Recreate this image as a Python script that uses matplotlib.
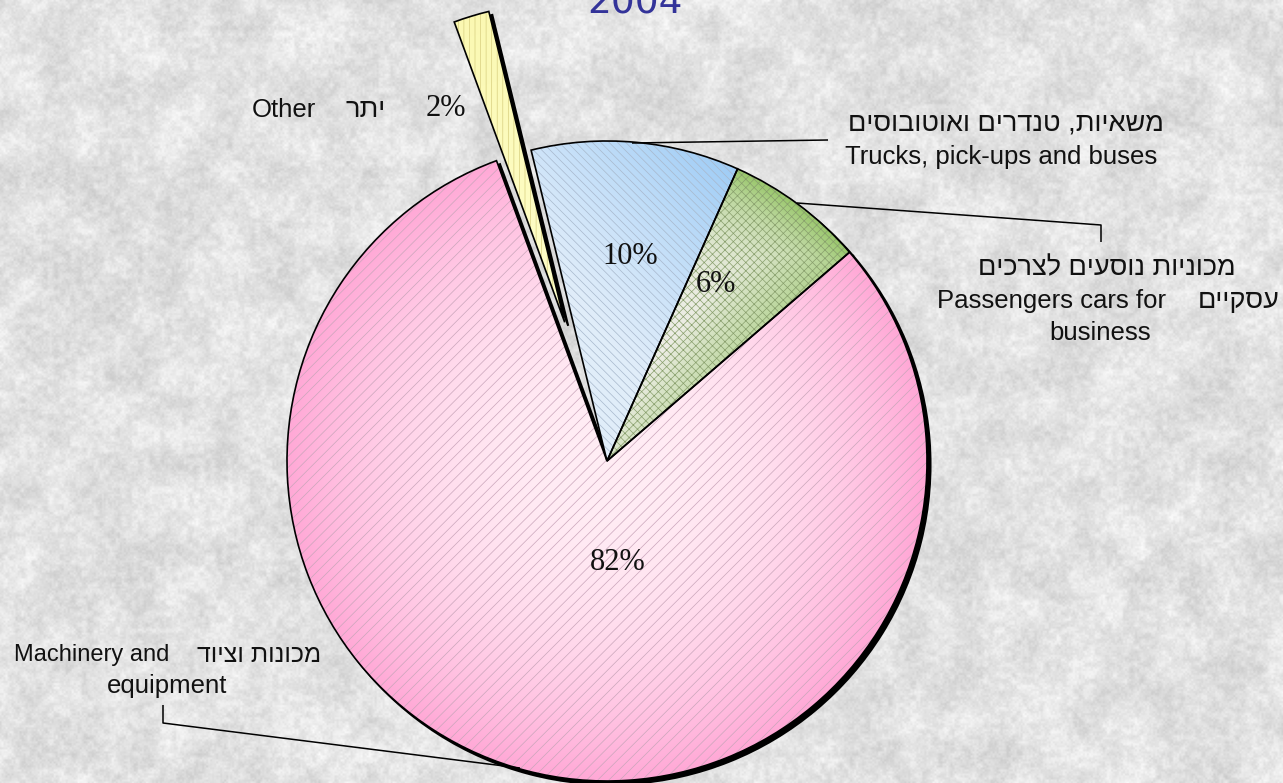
import numpy as np
import matplotlib
matplotlib.use("Agg")
import matplotlib.pyplot as plt
from matplotlib.patches import Wedge

W, H = 1283, 783

# ---------------- data ----------------
title = "2004"
categories_en = ["Other", "Trucks, pick-ups and buses",
                 "Passengers cars for business", "Machinery and equipment"]
categories_he = ["יתר", "משאיות, טנדרים ואוטובוסים",
                 "מכוניות נוסעים לצרכים עסקיים", "מכונות וציוד"]
shares = [1.8, 10.5, 7.0, 80.7]          # slice sizes as drawn
pct_labels = ["2%", "10%", "6%", "82%"]  # labels as printed


def rtl(s):
    """visual order for right-to-left Hebrew text (matplotlib draws LTR)"""
    return s[::-1]


def Y(py):
    return H - py


plt.rcParams["hatch.linewidth"] = 0.5
LBL = dict(family=["Liberation Sans", "DejaVu Sans"], fontsize=18.5, color="#111111")
HEB = dict(family=["Liberation Sans", "DejaVu Sans"], fontsize=19.5, color="#111111")
PCT = dict(family=["Liberation Serif", "DejaVu Serif"], fontsize=22, color="#111111")

fig = plt.figure(figsize=(W / 100, H / 100), dpi=100)
ax = fig.add_axes([0, 0, 1, 1])

# ---------------- marble background (deterministic texture) ----------------
def hashnoise(nr, nc, k):
    i, j = np.mgrid[0:nr, 0:nc].astype(float)
    v = np.sin(i * 12.9898 + j * 78.233 + k * 37.719) * 43758.5453
    return v - np.floor(v)


def upsample(a, nr, nc):
    r = np.linspace(0, a.shape[0] - 1, nr)
    c = np.linspace(0, a.shape[1] - 1, nc)
    r0 = np.floor(r).astype(int); c0 = np.floor(c).astype(int)
    r1 = np.minimum(r0 + 1, a.shape[0] - 1); c1 = np.minimum(c0 + 1, a.shape[1] - 1)
    fr = (r - r0)[:, None]; fc = (c - c0)[None, :]
    fr = fr * fr * (3 - 2 * fr); fc = fc * fc * (3 - 2 * fc)
    top = a[r0][:, c0] * (1 - fc) + a[r0][:, c1] * fc
    bot = a[r1][:, c0] * (1 - fc) + a[r1][:, c1] * fc
    return top * (1 - fr) + bot * fr


bg = (0.40 * upsample(hashnoise(28, 46, 1), H, W)
      + 0.35 * upsample(hashnoise(140, 230, 2), H, W)
      + 0.25 * upsample(hashnoise(390, 640, 3), H, W))
bg = 0.78 + 0.21 * bg
ax.imshow(bg, extent=(0, W, 0, H), cmap="gray", vmin=0, vmax=1,
          interpolation="nearest", aspect="auto", zorder=0)

# ---------------- pie ----------------
cx, cy, R = 607, Y(461), 320
explode = [145, 0, 0, 0]
wedges, _ = ax.pie(shares, radius=R, center=(cx, cy), startangle=110.2,
                   counterclock=False, explode=explode, normalize=True,
                   wedgeprops=dict(facecolor="none", edgecolor="black",
                                   linewidth=1.2, zorder=5))

light = [np.array(c) for c in [(1.0, 1.0, 0.80), (0.88, 0.93, 0.98),
                               (0.93, 0.93, 0.90), (1.0, 0.93, 0.96)]]
dark = [np.array(c) for c in [(0.97, 0.95, 0.60), (0.58, 0.78, 0.96),
                              (0.60, 0.78, 0.42), (1.0, 0.66, 0.84)]]
hatches = ["|||", "\\\\\\\\", "xxxx", "///"]
hcols = ["#d8cf80", "#a8b8cc", "#889f6c", "#caa6bb"]

for k, w in enumerate(wedges):
    (wx, wy), r, t1, t2 = w.center, w.r, w.theta1, w.theta2
    # shadow
    ax.add_patch(Wedge((wx + 3.5, wy - 3.5), r, t1, t2, facecolor="black",
                       edgecolor="black", lw=1.5, zorder=1))
    # gradient fill
    x0, x1 = wx - r, wx + r
    y0, y1 = wy - r, wy + r
    gx, gy = np.meshgrid(np.linspace(x0, x1, 300), np.linspace(y0, y1, 300))
    dx, dy = gx - wx, gy - wy
    if k == 3:      # machinery: radial, light centre, pink rim
        t = np.clip(np.hypot(dx, dy) / r, 0, 1) ** 2.2
    elif k == 1:    # trucks: light lower-left, blue upper-right
        d = np.array([0.75, 0.66]); d /= np.linalg.norm(d)
        p = (dx * d[0] + dy * d[1])
        t = np.clip((p - 80) / (r - 80), 0, 1) ** 1.2
    elif k == 2:    # passenger cars: light on truck side, green on other side
        a = np.deg2rad(0.5 * (t1 + t2) - 90)
        p = dx * np.cos(a) + dy * np.sin(a)
        t = np.clip((p + 20) / 130, 0, 1) ** 0.8
        t = np.maximum(t, np.clip(np.hypot(dx, dy) / r, 0, 1) ** 6)
    else:
        t = np.clip(np.hypot(dx, dy) / r, 0, 1) * 0.5
    img = light[k][None, None, :] * (1 - t[..., None]) + dark[k][None, None, :] * t[..., None]
    im = ax.imshow(img, extent=(x0, x1, y0, y1), origin="lower",
                   interpolation="bilinear", aspect="auto", zorder=2)
    im.set_clip_path(w)
    # hatch overlay
    ax.add_patch(Wedge((wx, wy), r, t1, t2, facecolor="none",
                       edgecolor=hcols[k], lw=0, hatch=hatches[k], zorder=3))

# ---------------- percent labels ----------------
pct_pos = [(446, 108), (630, 256), (716, 284), (618, 562)]
for lab, (px, py) in zip(pct_labels, pct_pos):
    ax.text(px, Y(py), lab, ha="center", va="center", zorder=6, **PCT)

# ---------------- category labels ----------------
# Other
ax.text(252, Y(110), categories_en[0], ha="left", va="center", zorder=6, **LBL)
ax.text(386, Y(110), rtl(categories_he[0]), ha="right", va="center", zorder=6, **HEB)
# Trucks
ax.text(1006, Y(124), rtl(categories_he[1]), ha="center", va="center", zorder=6, **HEB)
ax.text(1001, Y(157), categories_en[1], ha="center", va="center", zorder=6, **LBL)
# Passenger cars
he2 = categories_he[2].split(" ")
ax.text(1107, Y(268), rtl(" ".join(he2[:3])), ha="center", va="center", zorder=6, **HEB)
en2 = categories_en[2].split(" ")
ax.text(1166, Y(301), " ".join(en2[:3]), ha="right", va="center", zorder=6, **LBL)
ax.text(1280, Y(301), rtl(he2[3]), ha="right", va="center", zorder=6, **HEB)
ax.text(1100, Y(333), en2[3], ha="center", va="center", zorder=6, **LBL)
# Machinery
en3 = categories_en[3].split(" ")
ax.text(14, Y(655), " ".join(en3[:2]), ha="left", va="center", zorder=6,
        **{**LBL, "fontsize": 17})
ax.text(321, Y(655), rtl(categories_he[3]), ha="right", va="center", zorder=6,
        **{**HEB, "fontsize": 18})
ax.text(167, Y(686), en3[2], ha="center", va="center", zorder=6, **LBL)

# ---------------- leader lines ----------------
lk = dict(color="black", lw=1.1, zorder=6, solid_capstyle="butt")
ax.plot([632, 828], [Y(143), Y(140)], **lk)
ax.plot([797, 1101, 1101], [Y(203), Y(225), Y(242)], **lk)
ax.plot([163, 163, 520], [Y(705), Y(723), Y(768)], **lk)

# ---------------- title ----------------
ax.text(635, Y(13), title, ha="center", va="baseline", fontsize=27,
        family="DejaVu Sans", color="#333399", zorder=6)

ax.set_xlim(0, W)
ax.set_ylim(0, H)
ax.set_aspect("auto")
ax.axis("off")
fig.savefig("out.png", dpi=100)
